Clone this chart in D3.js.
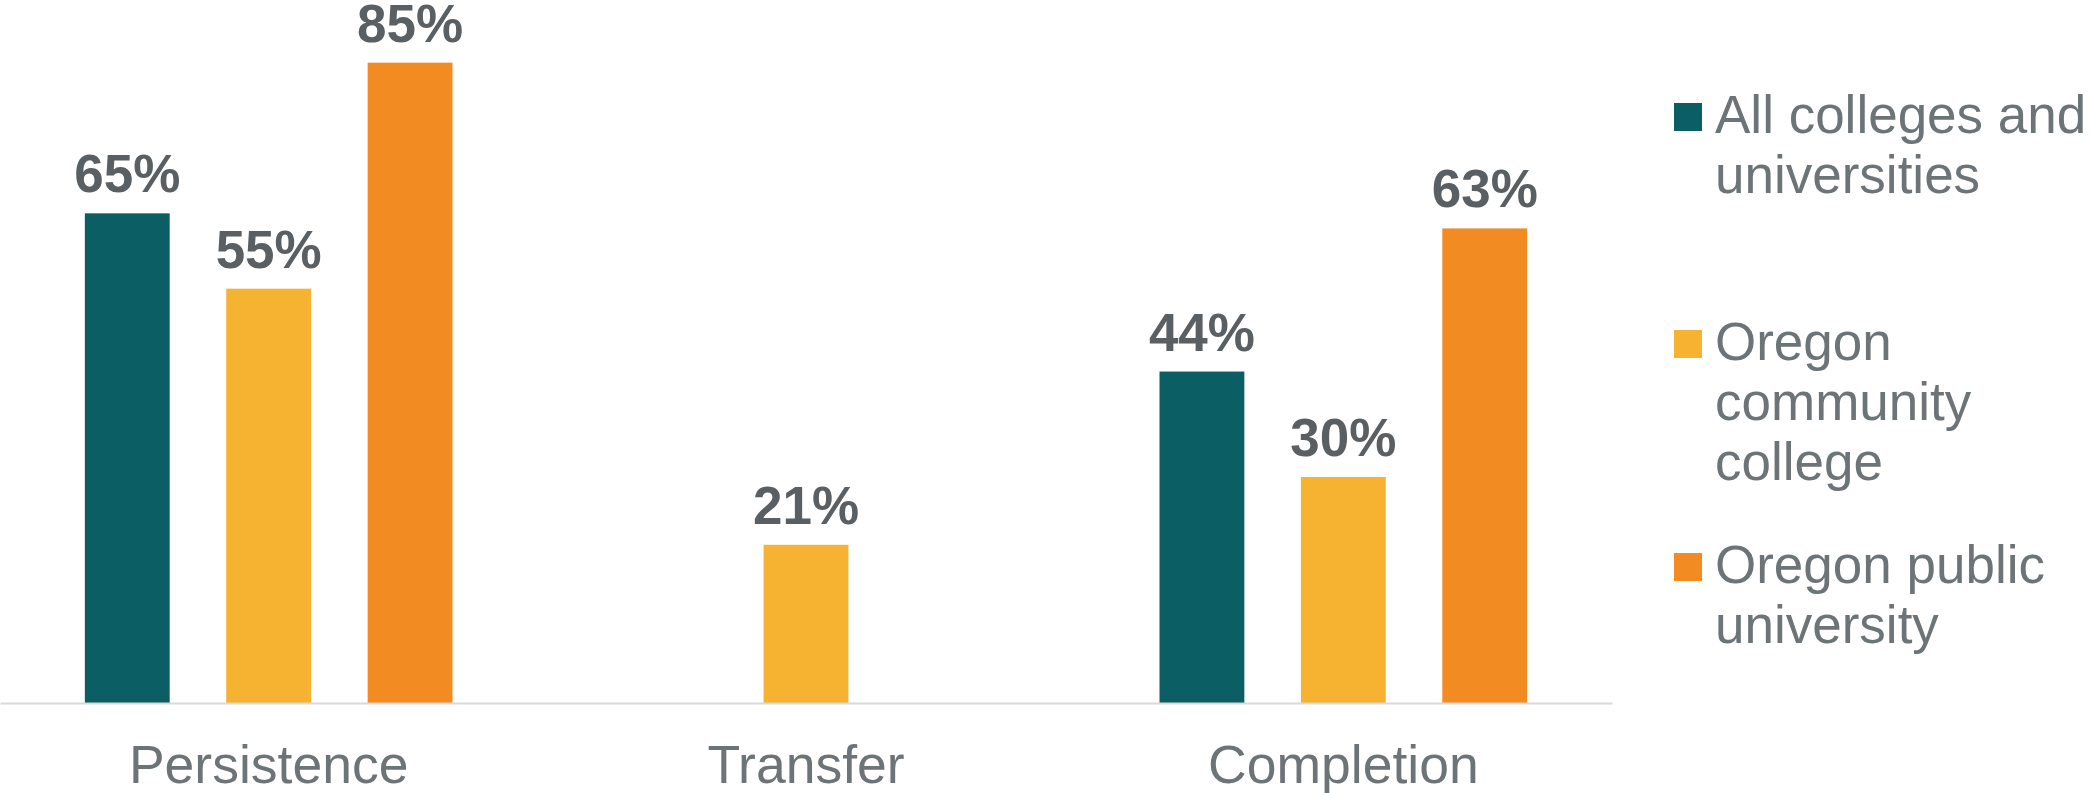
<!DOCTYPE html>
<html>
<head>
<meta charset="utf-8">
<script src="https://cdn.jsdelivr.net/npm/d3@7"></script>
<style>
  html, body { margin: 0; padding: 0; background: #ffffff; }
  svg { display: block; }
</style>
</head>
<body>
<svg id="chart" width="2091" height="793"></svg>
<script>
// ---- Data ----
const categories = ["Persistence", "Transfer", "Completion"];
const seriesNames = ["All colleges and universities", "Oregon community college", "Oregon public university"];
const allColleges = [65, null, 44];
const oregonCommunity = [55, 21, 30];
const oregonPublic = [85, null, 63];
const legendLines = [
  ["All colleges and", "universities"],
  ["Oregon", "community", "college"],
  ["Oregon public", "university"]
];
const colors = ["#0b5e64", "#f5b331", "#f28b22"];

const seriesValues = [allColleges, oregonCommunity, oregonPublic];

// ---- Layout ----
const svg = d3.select("#chart");
const font = "'Liberation Sans', Arial, sans-serif";
const plotLeft = 0, plotRight = 1612, baseline = 703;

const x0 = d3.scaleBand().domain(categories).range([plotLeft, plotRight]).padding(0);
const x1 = d3.scaleBand().domain(d3.range(seriesNames.length))
  .range([0, x0.bandwidth()]).paddingInner(0.4).paddingOuter(0.6);
const y = d3.scaleLinear().domain([0, 90]).range([baseline, 25]);

// bars
const groups = svg.append("g").selectAll("g")
  .data(categories).join("g")
  .attr("transform", d => `translate(${x0(d)},0)`);

groups.each(function(cat, ci) {
  const g = d3.select(this);
  const data = seriesValues.map((vals, si) => ({si, v: vals[ci]})).filter(d => d.v != null);
  g.selectAll("rect").data(data).join("rect")
    .attr("x", d => x1(d.si))
    .attr("width", x1.bandwidth())
    .attr("y", d => y(d.v))
    .attr("height", d => baseline - y(d.v))
    .attr("fill", d => colors[d.si]);
  g.selectAll("text").data(data).join("text")
    .attr("x", d => x1(d.si) + x1.bandwidth() / 2)
    .attr("y", d => y(d.v) - 21)
    .attr("text-anchor", "middle")
    .attr("font-family", font)
    .attr("font-weight", "bold")
    .attr("font-size", 53)
    .attr("fill", "#595f62")
    .text(d => d.v + "%");
});

// axis
const xAxis = d3.axisBottom(x0).tickSize(0).tickPadding(42);
const axG = svg.append("g").attr("transform", `translate(0,${baseline})`).call(xAxis);
axG.select(".domain").attr("stroke", "#d9d9d9").attr("stroke-width", 2);
axG.selectAll("text")
  .attr("font-family", font)
  .attr("font-size", 53.5)
  .attr("fill", "#6d7478");

// legend
const legendX = 1674, textX = 1715;
const legendTop = [133, 360, 583];
const lineH = 60;
const lg = svg.append("g");
seriesNames.forEach((name, i) => {
  lg.append("rect")
    .attr("x", legendX).attr("y", legendTop[i] - 30)
    .attr("width", 28).attr("height", 28)
    .attr("fill", colors[i]);
  const t = lg.append("text")
    .attr("font-family", font)
    .attr("font-size", 53)
    .attr("fill", "#6d7478");
  legendLines[i].forEach((ln, j) => {
    t.append("tspan").attr("x", textX).attr("y", legendTop[i] + j * lineH).text(ln);
  });
});
</script>
</body>
</html>
